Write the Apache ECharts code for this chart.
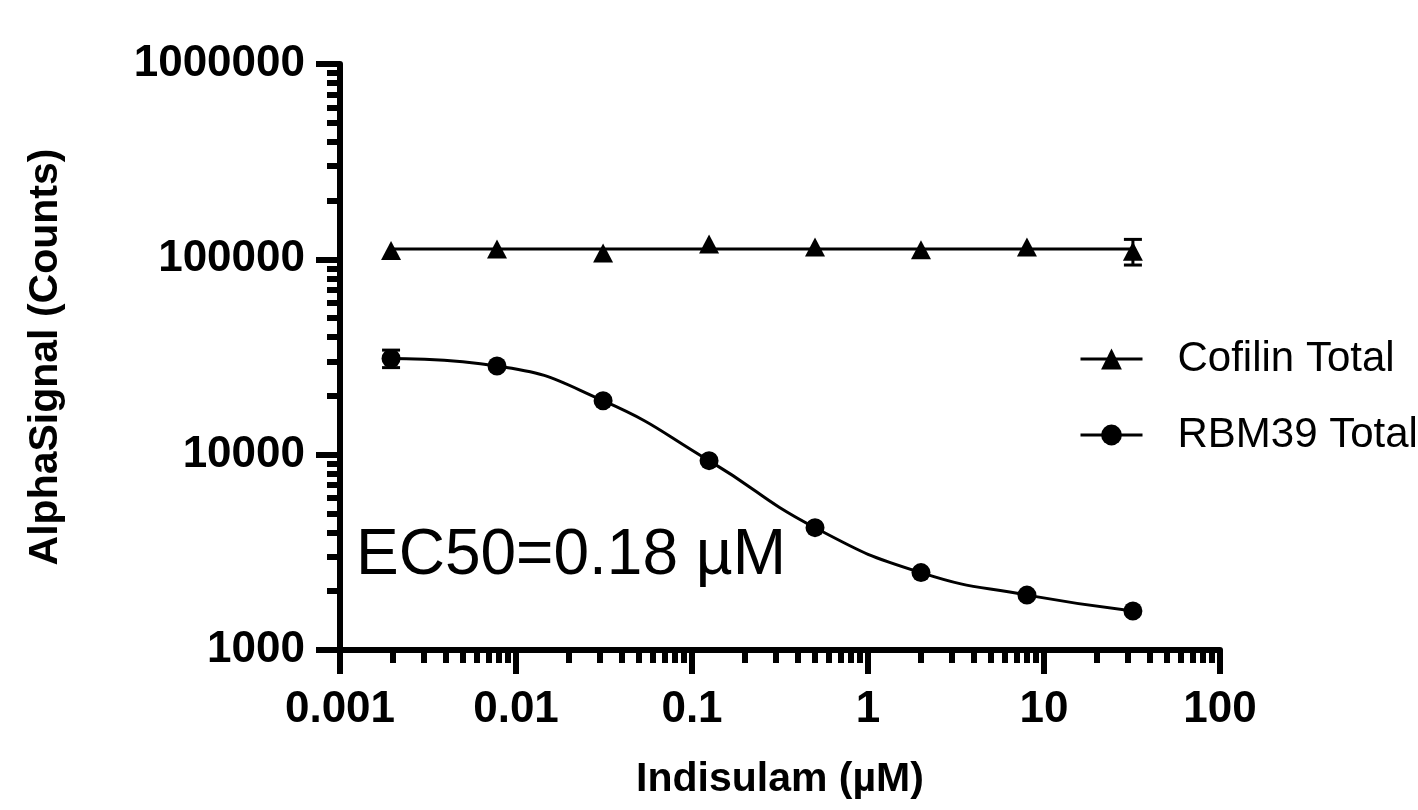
<!DOCTYPE html>
<html>
<head>
<meta charset="utf-8">
<script src="https://cdn.jsdelivr.net/npm/echarts@6/dist/echarts.min.js"></script>
<style>
  html, body { margin: 0; padding: 0; background: #fff; }
  #chart { width: 1418px; height: 810px; }
</style>
</head>
<body>
<div id="chart"></div>
<script>
// 4-fold dilution series, µM
const doses = [0.00195, 0.0078, 0.03125, 0.125, 0.5, 2, 8, 32];
const cofilinMean = [111100, 113000, 107800, 119900, 115700, 112100, 115700, 110000];
const cofilinSd = [0, 0, 0, 0, 0, 0, 0, 16500];
const rbm39Mean = [31100, 28460, 18900, 9320, 4230, 2490, 1910, 1585];
const rbm39Sd = [3200, 0, 0, 0, 0, 0, 0, 0];
// flat fit for cofilin, drawn from first to last dose
const cofilinFit = [112900, 112900];
const xTickLabels = ['0.001', '0.01', '0.1', '1', '10', '100'];
const yTickLabels = ['1000', '10000', '100000', '1000000'];

const FONT = '"Liberation Sans", Arial, sans-serif';

const toPairs = (ys) => doses.map((d, i) => [d, ys[i]]);
const toErr = (ys, sd) => doses
  .map((d, i) => [d, ys[i] - sd[i], ys[i] + sd[i]])
  .filter((r, i) => sd[i] > 0);

function errorBar(params, api) {
  const x = api.value(0);
  const top = api.coord([x, api.value(2)]);
  const bot = api.coord([x, api.value(1)]);
  const half = 9;
  const style = { stroke: '#000', lineWidth: 3 };
  return {
    type: 'group',
    children: [
      { type: 'line', shape: { x1: top[0], y1: top[1], x2: bot[0], y2: bot[1] }, style },
      { type: 'line', shape: { x1: top[0] - half, y1: top[1], x2: top[0] + half, y2: top[1] }, style },
      { type: 'line', shape: { x1: bot[0] - half, y1: bot[1], x2: bot[0] + half, y2: bot[1] }, style }
    ]
  };
}

const axisCommon = {
  type: 'log',
  logBase: 10,
  nameLocation: 'middle',
  nameTextStyle: { fontFamily: FONT, fontSize: 41, fontWeight: 'bold', color: '#000' },
  axisLine: { show: true, onZero: false, lineStyle: { color: '#000', width: 6 } },
  axisTick: { show: true, length: 24, lineStyle: { color: '#000', width: 6 } },
  minorTick: { show: true, splitNumber: 9, length: 13, lineStyle: { color: '#000', width: 6 } },
  splitLine: { show: false },
  minorSplitLine: { show: false }
};

const chart = echarts.init(document.getElementById('chart'));

const option = {
  animation: false,
  backgroundColor: '#fff',
  grid: { left: 340, top: 64, right: 198, bottom: 160, containLabel: false, outerBoundsMode: 'none' },
  xAxis: Object.assign({}, axisCommon, {
    min: 0.001,
    max: 100,
    name: 'Indisulam (µM)',
    nameGap: 109,
    axisLabel: {
      margin: 38, fontFamily: FONT, fontSize: 44, fontWeight: 'bold', color: '#000',
      formatter: (v) => xTickLabels[Math.round(Math.log10(v)) + 3]
    }
  }),
  yAxis: Object.assign({}, axisCommon, {
    min: 1000,
    max: 1000000,
    name: 'AlphaSignal (Counts)',
    nameGap: 274,
    axisLabel: {
      margin: 35, fontFamily: FONT, fontSize: 44, fontWeight: 'bold', color: '#000',
      formatter: (v) => yTickLabels[Math.round(Math.log10(v)) - 3]
    }
  }),
  legend: {
    data: ['Cofilin Total', 'RBM39 Total'],
    orient: 'vertical',
    left: 1074,
    top: 333,
    itemWidth: 62,
    itemHeight: 26,
    itemGap: 34,
    selectedMode: false,
    textStyle: { fontFamily: FONT, fontSize: 42, color: '#000', padding: [0, 0, 0, 30] },
    lineStyle: { color: '#000', width: 3, opacity: 1 }
  },
  graphic: [{
    type: 'text',
    x: 356,
    y: 556,
    style: {
      text: 'EC50=0.18 µM',
      fontFamily: FONT,
      fontSize: 64,
      fill: '#000',
      align: 'left',
      verticalAlign: 'middle'
    }
  }],
  series: [
    {
      name: 'Cofilin fit',
      type: 'line',
      data: [[doses[0], cofilinFit[0]], [doses[doses.length - 1], cofilinFit[1]]],
      symbol: 'none',
      silent: true,
      lineStyle: { color: '#000', width: 3 },
      z: 2
    },
    {
      name: 'Cofilin Total',
      type: 'line',
      data: toPairs(cofilinMean),
      symbol: 'triangle',
      symbolSize: [20, 19],
      itemStyle: { color: '#000' },
      lineStyle: { width: 0, opacity: 0 },
      z: 4
    },
    {
      name: 'RBM39 Total',
      type: 'line',
      data: toPairs(rbm39Mean),
      smooth: 0.5,
      symbol: 'circle',
      symbolSize: 19,
      itemStyle: { color: '#000' },
      lineStyle: { color: '#000', width: 3 },
      z: 4
    },
    {
      name: 'error',
      type: 'custom',
      renderItem: errorBar,
      encode: { x: 0, y: [1, 2] },
      data: toErr(cofilinMean, cofilinSd).concat(toErr(rbm39Mean, rbm39Sd)),
      silent: true,
      z: 3
    }
  ]
};

chart.setOption(option);
</script>
</body>
</html>
